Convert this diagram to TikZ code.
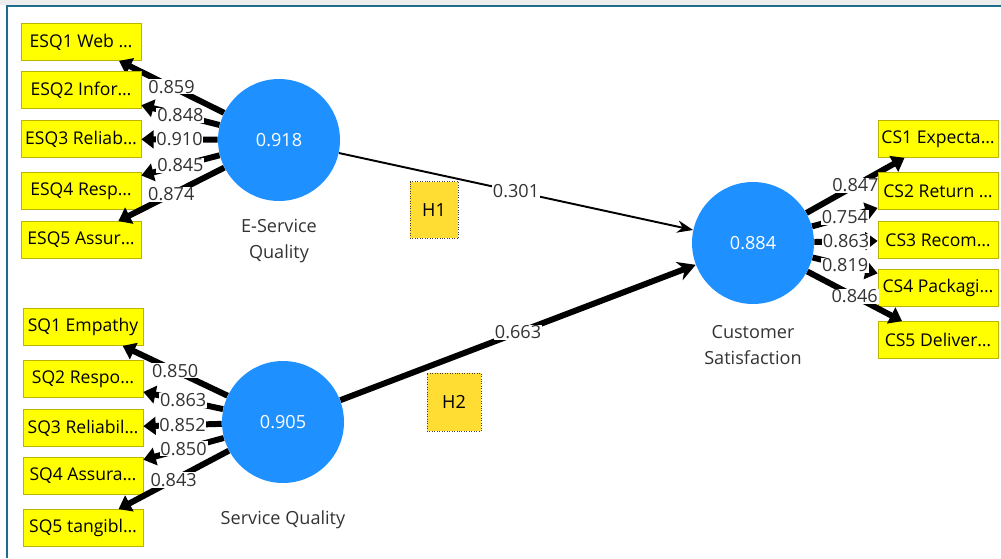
\documentclass[tikz,border=0pt]{standalone}
\usepackage{fontspec}
\setmainfont{Open Sans}
\usetikzlibrary{arrows.meta}
\definecolor{plsblue}{HTML}{1E90FF}
\definecolor{indyel}{HTML}{FFFF00}
\definecolor{indline}{HTML}{BDB400}
\definecolor{hypyel}{HTML}{FFDD33}
\definecolor{frameblue}{HTML}{1F6B8A}
\definecolor{txtgray}{HTML}{333333}
\tikzset{
  indbox/.style={draw=indline,fill=indyel,minimum width=2.4cm,minimum height=0.74cm,inner sep=1pt,font=\fontsize{10}{12}\selectfont},
  lv/.style={circle,fill=plsblue,minimum size=2.44cm,inner sep=0pt,text=white,font=\fontsize{10.3}{12}\selectfont},
  lvname/.style={align=center,text=txtgray,font=\fontsize{10.3}{14.5}\selectfont},
  load/.style={line width=3.4pt,-{Triangle[length=7pt,width=10pt]}},
  coef/.style={fill=white,inner sep=0.5pt,text=txtgray,font=\fontsize{10.3}{12}\selectfont},
  hbox/.style={draw=black!75,densely dotted,fill=hypyel,font=\fontsize{10.3}{12}\selectfont}
}
\begin{document}
\begin{tikzpicture}[x=0.02cm,y=-0.02cm]
\useasboundingbox (0,0) rectangle (1001,558);
\fill[black!7] (0,0) rectangle (1001,5);
\draw[frameblue,line width=1.2pt] (7,558) -- (7,6) -- (1001,6);
% latent variables
\node[lv] (esq) at (279,140) {0.918};
\node[lv] (sq) at (283,422) {0.905};
\node[lv] (cs) at (753,243) {0.884};
\node[lvname] (esqname) at (279,241) {E-Service\\Quality};
\node[lvname] (sqname) at (283,520) {Service Quality};
\node[lvname] (csname) at (753,345) {Customer\\Satisfaction};
% outer loadings
\foreach \i/\y/\t/\l in {1/42/ESQ1 Web …/0.859,2/90/ESQ2 Infor…/0.848,3/139/ESQ3 Reliab…/0.910,4/191/ESQ4 Resp…/0.845,5/240/ESQ5 Assur…/0.874} {
  \node[indbox] (esq\i) at (81,\y) {\t};
  \draw[load] (esq) -- (esq\i) node[coef,midway] {\l};
}
\foreach \i/\y/\t/\l in {1/327/SQ1 Empathy/0.850,2/379/SQ2 Respo…/0.863,3/428/SQ3 Reliabil…/0.852,4/476/SQ4 Assura…/0.850,5/528/SQ5 tangibl…/0.843} {
  \node[indbox] (sq\i) at (83,\y) {\t};
  \draw[load] (sq) -- (sq\i) node[coef,midway] {\l};
}
\foreach \i/\y/\t/\l in {1/139/CS1 Expecta…/0.847,2/191/CS2 Return …/0.754,3/240/CS3 Recom…/0.863,4/288/CS4 Packagi…/0.819,5/340/CS5 Deliver…/0.846} {
  \node[indbox] (cs\i) at (938,\y) {\t};
  \draw[load] (cs) -- (cs\i) node[coef,midway] {\l};
}
% structural paths
\draw[line width=1.1pt,-{Stealth[length=9pt,width=7pt]}] (esq) -- (cs) node[coef,midway] {0.301};
\draw[line width=3.4pt,-{Stealth[length=10pt,width=11pt]}] (sq) -- (cs) node[coef,midway] {0.663};
\node[hbox,minimum width=0.96cm,minimum height=1.14cm] (h1) at (434,210) {H1};
\node[hbox,minimum width=1.08cm,minimum height=1.16cm] (h2) at (454,402) {H2};
\end{tikzpicture}
\end{document}
